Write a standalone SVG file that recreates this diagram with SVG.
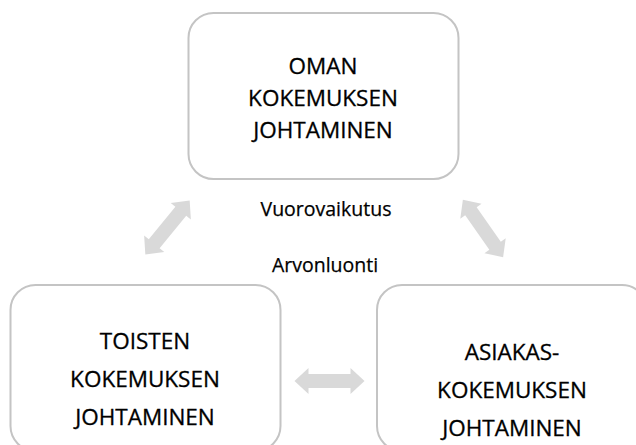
<svg xmlns="http://www.w3.org/2000/svg" width="636" height="445" viewBox="0 0 636 445">
<defs>
<style>
.box{fill:#fff;stroke:#c4c4c4;stroke-width:2}
.t{font-family:"Open Sans","Liberation Sans",sans-serif;font-size:22.5px;fill:#000;stroke:#000;stroke-width:0.3;text-anchor:middle}
.l{font-family:"Open Sans","Liberation Sans",sans-serif;font-size:19.5px;fill:#000;stroke:#000;stroke-width:0.25;text-anchor:middle}
.arr{fill:#d9d9d9}
</style>
<path id="dbl" d="M-35,0 L-21,-13 L-21,-7 L21,-7 L21,-13 L35,0 L21,13 L21,7 L-21,7 L-21,13 Z"/>
</defs>
<rect width="636" height="445" fill="#fff"/>
<g id="connectors">
<use href="#dbl" class="arr" transform="translate(167.5,227.5) rotate(-50.7)"/>
<use href="#dbl" class="arr" transform="translate(483,228.5) rotate(54.9)"/>
<use href="#dbl" class="arr" transform="translate(329.5,381)"/>
</g>
<g id="oman">
<rect class="box" x="188.5" y="13" width="270" height="166" rx="25"/>
<text class="t" x="323" y="74">OMAN</text>
<text class="t" x="323" y="106">KOKEMUKSEN</text>
<text class="t" x="323" y="138">JOHTAMINEN</text>
</g>
<g id="toisten">
<rect class="box" x="10.5" y="285" width="270" height="166" rx="25"/>
<text class="t" x="145" y="349">TOISTEN</text>
<text class="t" x="145" y="387">KOKEMUKSEN</text>
<text class="t" x="145" y="425">JOHTAMINEN</text>
</g>
<g id="asiakas">
<rect class="box" x="377" y="285" width="270" height="166" rx="25"/>
<text class="t" x="512" y="360">ASIAKAS-</text>
<text class="t" x="512" y="398">KOKEMUKSEN</text>
<text class="t" x="512" y="436">JOHTAMINEN</text>
</g>
<g id="labels">
<text class="l" x="326" y="216">Vuorovaikutus</text>
<text class="l" x="325" y="272">Arvonluonti</text>
</g>
</svg>
